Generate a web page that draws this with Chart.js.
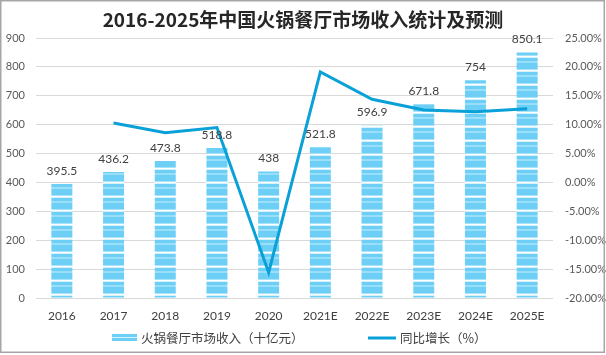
<!DOCTYPE html>
<html><head><meta charset="utf-8">
<script src="https://cdn.jsdelivr.net/npm/chart.js@4/dist/chart.umd.min.js"></script>
<style>html,body{margin:0;padding:0;background:#fff}#wrap{position:relative;width:606px;height:355px}</style>
</head><body><div id="wrap"><canvas id="c"></canvas></div>
<script>
const titleText = '2016-2025年中国火锅餐厅市场收入统计及预测';
const categories = ['2016','2017','2018','2019','2020','2021E','2022E','2023E','2024E','2025E'];
const revenue = [395.5, 436.2, 473.8, 518.8, 438, 521.8, 596.9, 671.8, 754, 850.1];
const growth = [null, 10.29, 8.62, 9.50, -15.57, 19.13, 14.39, 12.55, 12.24, 12.75];
const leftTicks = [0, 100, 200, 300, 400, 500, 600, 700, 800, 900];
const rightTicks = [-20, -15, -10, -5, 0, 5, 10, 15, 20, 25];
const seriesNames = ['火锅餐厅市场收入（十亿元）', '同比增长（%）'];

const BLUE = '#6dcff6', LIGHT = '#9adff9', LINE = '#0aa0d8';
const TICK_FONT = 'Lato, "Noto Sans", sans-serif';
const CJK_FONT = '"Noto Sans CJK SC", sans-serif';

function makePattern() {
  const pc = document.createElement('canvas');
  pc.width = 8; pc.height = 14;
  const g = pc.getContext('2d');
  const rows = [['#ffffff',0,1],['#d5f1fc',1,1],[BLUE,2,3],[LIGHT,5,2],[BLUE,7,6],['#a8e3f9',13,1]];
  rows.forEach(([c,y,h]) => { g.fillStyle = c; g.fillRect(0,y,8,h); });
  return document.getElementById('c').getContext('2d').createPattern(pc, 'repeat');
}

const extras = {
  id: 'extras',
  afterDatasetsDraw(chart) {
    const ctx = chart.ctx;
    const meta = chart.getDatasetMeta(0);
    ctx.save();
    ctx.font = '12px ' + TICK_FONT;
    ctx.fillStyle = '#404040';
    ctx.textAlign = 'center';
    ctx.textBaseline = 'bottom';
    meta.data.forEach((el, i) => ctx.fillText(String(revenue[i]), el.x, el.y - 7));
    ctx.restore();
  },
  afterDraw(chart) {
    const ctx = chart.ctx;
    ctx.save();
    const y = 338;
    ctx.font = '12.5px ' + CJK_FONT;
    ctx.textBaseline = 'middle';
    ctx.textAlign = 'left';
    let x = 112;
    ctx.fillStyle = BLUE; ctx.fillRect(x, y - 4, 25, 3);
    ctx.fillStyle = '#d5f1fc'; ctx.fillRect(x, y - 1, 25, 1);
    ctx.fillStyle = BLUE; ctx.fillRect(x, y, 25, 3);
    ctx.fillStyle = '#404040';
    ctx.fillText(seriesNames[0], x + 29, y);
    x = 368;
    ctx.strokeStyle = LINE; ctx.lineWidth = 3;
    ctx.beginPath(); ctx.moveTo(x, y); ctx.lineTo(x + 28, y); ctx.stroke();
    ctx.fillText(seriesNames[1], x + 32, y);
    ctx.strokeStyle = '#a6a6a6'; ctx.lineWidth = 1.5;
    ctx.strokeRect(0.75, 0.75, 603.5, 351.5);
    ctx.restore();
  }
};

new Chart(document.getElementById('c'), {
  data: {
    labels: categories,
    datasets: [
      { type: 'bar', label: seriesNames[0], data: revenue, yAxisID: 'y', order: 1,
        backgroundColor: makePattern(), borderWidth: 0, barPercentage: 0.406, categoryPercentage: 1 },
      { type: 'line', label: seriesNames[1], data: growth, yAxisID: 'y1', order: 0,
        borderColor: LINE, backgroundColor: LINE, borderWidth: 3, pointRadius: 0, tension: 0, spanGaps: false }
    ]
  },
  options: {
    responsive: true, maintainAspectRatio: false, animation: false,
    layout: { padding: { top: 0, left: 0, right: 0, bottom: 27 } },
    plugins: {
      legend: { display: false },
      tooltip: { enabled: false },
      title: { display: true, text: titleText, color: '#262626',
        font: { family: CJK_FONT, size: 19, weight: 'bold', lineHeight: 1.2 },
        padding: { top: 8, bottom: 7.2 } }
    },
    scales: {
      x: {
        grid: { display: false, drawTicks: false }, border: { display: false },
        ticks: { color: '#404040', font: { family: TICK_FONT, size: 12 }, padding: 11, maxRotation: 0, autoSkip: false },
        afterFit: s => { s.height = 30; }
      },
      y: {
        position: 'left', min: 0, max: 900,
        afterBuildTicks: s => { s.ticks = leftTicks.map(v => ({ value: v })); },
        grid: { color: '#d9d9d9', lineWidth: 1, drawTicks: false }, border: { display: false },
        ticks: { color: '#595959', font: { family: TICK_FONT, size: 11 }, padding: 11 },
        afterFit: s => { s.width = 36; }
      },
      y1: {
        position: 'right', min: -20, max: 25,
        afterBuildTicks: s => { s.ticks = rightTicks.map(v => ({ value: v })); },
        grid: { display: false, drawTicks: false }, border: { display: false },
        ticks: { color: '#595959', font: { family: TICK_FONT, size: 11 }, padding: 12,
          callback: v => v.toFixed(2) + '%' },
        afterFit: s => { s.width = 53; }
      }
    }
  },
  plugins: [extras]
});
</script></body></html>
